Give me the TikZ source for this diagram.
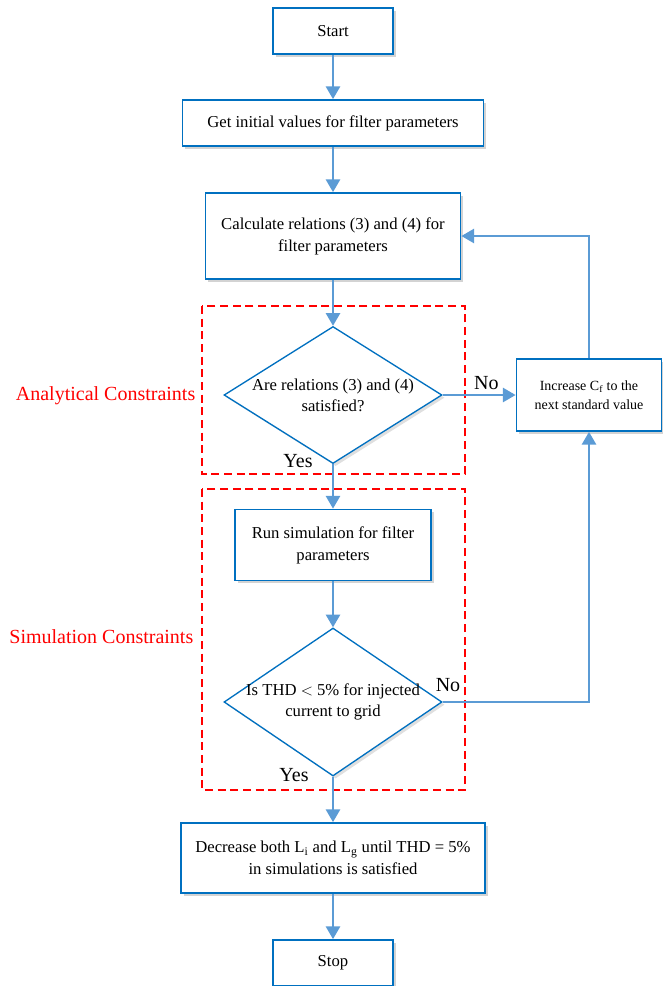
\documentclass[tikz,border=0pt]{standalone}
\usepackage{fontspec}
\setmainfont{Liberation Serif}
\usepackage{xcolor}
\usetikzlibrary{positioning,shapes.geometric,arrows.meta,shadows}

\definecolor{boxblue}{RGB}{0,112,192}
\definecolor{lineblue}{RGB}{91,155,213}

\begin{document}
\begin{tikzpicture}[
    x=0.75pt, y=-0.75pt,
    box/.style={
        rectangle,
        draw=boxblue,
        fill=white,
        line width=1.3pt,
        drop shadow={opacity=0.35, shadow xshift=2pt, shadow yshift=-2pt},
        align=center,
        inner sep=2pt,
        font=\fontsize{12.5}{16.5}\selectfont
    },
    decision/.style={
        diamond,
        draw=boxblue,
        fill=white,
        line width=1pt,
        aspect=1.59,
        inner xsep=-5pt,
        inner ysep=0pt,
        minimum width=163.5pt,
        minimum height=102.75pt,
        drop shadow={opacity=0.25, shadow xshift=2pt, shadow yshift=-2pt},
        align=center,
        font=\fontsize{12.5}{15.5}\selectfont
    },
    arrow/.style={-{Triangle[width=10.5pt,length=9.5pt]}, draw=lineblue, line width=1.8pt},
    frame/.style={draw=red, line width=1.2pt, dash pattern=on 6pt off 3.5pt},
    lbl/.style={font=\fontsize{15}{17}\selectfont},
    side/.style={text=red, anchor=east, font=\fontsize{15}{17}\selectfont}
]
\useasboundingbox (0,0) rectangle (662,986);

% frames around the two checks
\draw[frame] (202,306) rectangle (465,474);
\draw[frame] (202,489) rectangle (465,790);
\node[side] (SA) at (200,396) {Analytical Constraints};
\node[side] (SS) at (198,637) {Simulation Constraints};

\node[box, minimum width=90pt, minimum height=34.5pt] (A) at (333,31)
{Start};

\node[box, minimum width=225.75pt, minimum height=34.5pt] (B) at (333,123)
{Get initial values for filter parameters};

\node[box, minimum width=191.25pt, minimum height=64.5pt] (C) at (333,236)
{Calculate relations (3) and (4) for\\ filter parameters};

\node[decision] (D) at (333,395)
{Are relations (3) and (4)\\ satisfied?};

\node[box, minimum width=108.75pt, minimum height=54pt,
      font=\fontsize{10.5}{14}\selectfont] (E) at (589,395)
{Increase C\textsubscript{f} to the\\ next standard value};

\node[box, minimum width=147pt, minimum height=53.25pt] (F) at (333,545)
{Run simulation for filter\\ parameters};

\node[decision, minimum height=111pt] (G) at (333,702)
{Is THD $<$ 5\% for injected\\ current to grid};

\node[box, minimum width=228pt, minimum height=52.5pt] (H) at (333,858)
{Decrease both L\textsubscript{i} and L\textsubscript{g} until THD = 5\%\\ in simulations is satisfied};

\node[box, minimum width=90pt, minimum height=34.5pt] (I) at (333,963)
{Stop};

\draw[arrow] (A) -- (B);
\draw[arrow] (B) -- (C);
\draw[arrow] (C) -- (D);
\draw[arrow] (D) -- node[lbl, pos=0.6, above] {No} (E);
\draw[arrow] (E.north) |- (C.east);
\draw[arrow] (D) -- (F);
\draw[arrow] (F) -- (G);
\draw[arrow] (G.east) -| (E.south);
\draw[arrow] (G) -- (H);
\draw[arrow] (H) -- (I);

\node[lbl] (Y1) at (298,461) {Yes};
\node[lbl] (N2) at (448,685) {No};
\node[lbl] (Y2) at (294,775) {Yes};

\end{tikzpicture}
\end{document}
